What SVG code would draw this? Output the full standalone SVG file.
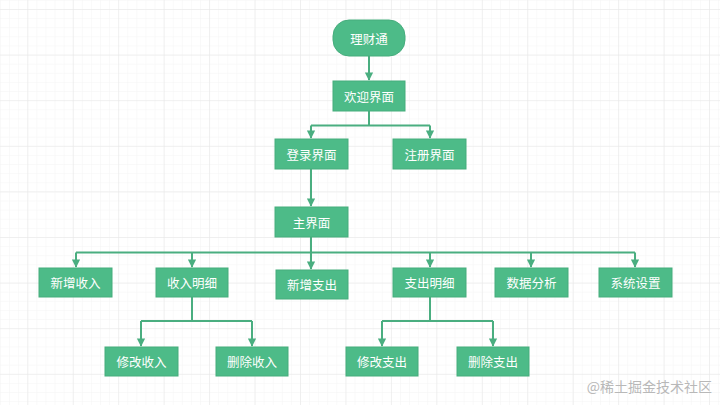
<svg xmlns="http://www.w3.org/2000/svg" width="720" height="405" viewBox="0 0 720 405">
<defs>
<pattern id="minor" patternUnits="userSpaceOnUse" x="27.3" y="9" width="9.09" height="9.12">
<path d="M0 0H9.09M0 0V9.12" fill="none" stroke="#f4f4f4" stroke-width="1"/>
</pattern>
<pattern id="major" patternUnits="userSpaceOnUse" x="27.3" y="9" width="45.45" height="45.6">
<path d="M0 0H45.45M0 0V45.6" fill="none" stroke="#e6e6e6" stroke-width="1"/>
</pattern>
<marker id="arr" viewBox="0 0 10 10" refX="9" refY="5" markerWidth="4.2" markerHeight="4.2" orient="auto" markerUnits="strokeWidth">
<path d="M0 0L10 5L0 10z" fill="#4aae80"/>
</marker>
<style>
.box{fill:#4dbb88;stroke:#46ad7d;stroke-width:1}
.t{fill:#ffffff;font-family:"Noto Sans CJK SC","Noto Sans",sans-serif;font-size:12.5px;text-anchor:middle;dominant-baseline:central}
.c{fill:none;stroke:#4aae80;stroke-width:2}
.a{marker-end:url(#arr)}
</style>
</defs>
<rect width="720" height="405" fill="#ffffff"/>
<rect width="720" height="405" fill="url(#minor)"/>
<rect width="720" height="405" fill="url(#major)"/>

<g id="connectors">
<path class="c a" d="M369 56V80"/>
<path class="c" d="M369 111V125.5M311 125.5H430"/>
<path class="c a" d="M311 125.5V138"/>
<path class="c a" d="M430 125.5V138"/>
<path class="c a" d="M311 169V206"/>
<path class="c" d="M311 237V252.5M76 252.5H635"/>
<path class="c a" d="M76 252.5V267"/>
<path class="c a" d="M192 252.5V267"/>
<path class="c a" d="M311 252.5V269"/>
<path class="c a" d="M430 252.5V267"/>
<path class="c a" d="M531 252.5V267"/>
<path class="c a" d="M635 252.5V267"/>
<path class="c" d="M192 297V321M141 321H252"/>
<path class="c a" d="M141 321V346"/>
<path class="c a" d="M252 321V346"/>
<path class="c" d="M430 297V321M382 321H493"/>
<path class="c a" d="M382 321V346"/>
<path class="c a" d="M493 321V346"/>
</g>

<g id="n-licaitong"><rect class="box" x="333" y="20" width="72" height="36" rx="16"/><text class="t" x="369" y="38">理财通</text></g>
<g id="n-welcome"><rect class="box" x="333" y="81" width="72" height="30"/><text class="t" x="369" y="96">欢迎界面</text></g>
<g id="n-login"><rect class="box" x="275" y="139" width="73" height="30"/><text class="t" x="311.5" y="154">登录界面</text></g>
<g id="n-register"><rect class="box" x="393" y="139" width="73" height="30"/><text class="t" x="429.5" y="154">注册界面</text></g>
<g id="n-main"><rect class="box" x="275" y="207" width="73" height="30"/><text class="t" x="311.5" y="222">主界面</text></g>
<g id="n-add-income"><rect class="box" x="39" y="268" width="73" height="29"/><text class="t" x="75.5" y="282.5">新增收入</text></g>
<g id="n-income-detail"><rect class="box" x="156" y="268" width="72" height="29"/><text class="t" x="192" y="282.5">收入明细</text></g>
<g id="n-add-expense"><rect class="box" x="276" y="270" width="72" height="29"/><text class="t" x="312" y="284.5">新增支出</text></g>
<g id="n-expense-detail"><rect class="box" x="393" y="268" width="73" height="29"/><text class="t" x="429.5" y="282.5">支出明细</text></g>
<g id="n-analysis"><rect class="box" x="495" y="268" width="73" height="29"/><text class="t" x="531.5" y="282.5">数据分析</text></g>
<g id="n-settings"><rect class="box" x="599" y="268" width="73" height="29"/><text class="t" x="635.5" y="282.5">系统设置</text></g>
<g id="n-edit-income"><rect class="box" x="105" y="347" width="73" height="29"/><text class="t" x="141.5" y="361.5">修改收入</text></g>
<g id="n-del-income"><rect class="box" x="216" y="347" width="72" height="29"/><text class="t" x="252" y="361.5">删除收入</text></g>
<g id="n-edit-expense"><rect class="box" x="346" y="347" width="72" height="29"/><text class="t" x="382" y="361.5">修改支出</text></g>
<g id="n-del-expense"><rect class="box" x="457" y="347" width="72" height="29"/><text class="t" x="493" y="361.5">删除支出</text></g>

<text x="712" y="392" text-anchor="end" fill="#b8b8b8" font-family="Noto Sans CJK SC, Noto Sans, sans-serif" font-size="14">@稀土掘金技术社区</text>
</svg>
